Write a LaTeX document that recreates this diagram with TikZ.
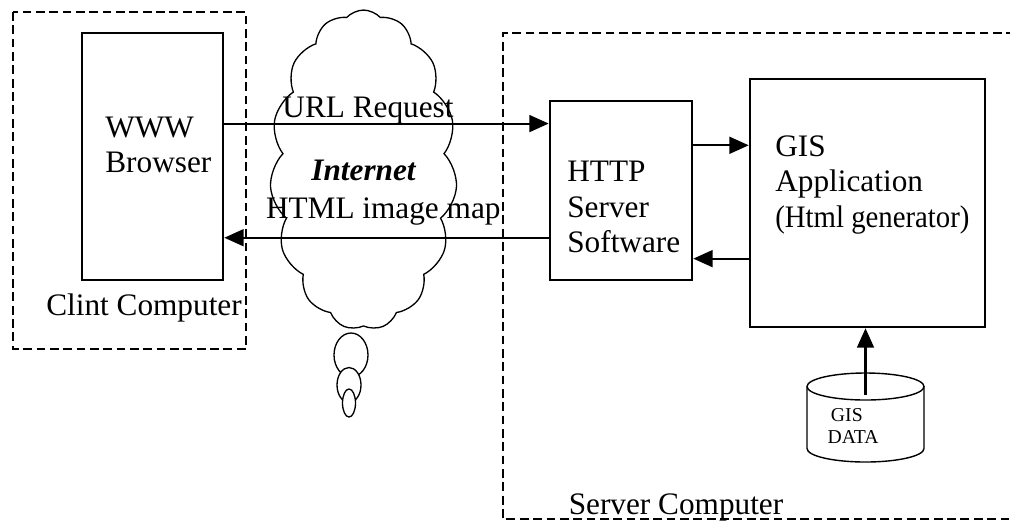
\documentclass[tikz,border=0pt]{standalone}
\usepackage{fontspec}
\setmainfont{Liberation Serif}
\usetikzlibrary{arrows.meta, calc, shapes.geometric, shapes.symbols}

\tikzset{
	box/.style={draw, line width=1.5pt, inner sep=0pt},
	frame/.style={line width=1.2pt, dash pattern=on 5pt off 2.6pt},
	arrow/.style={line width=1.2pt, -{Triangle[length=11pt,width=9.6pt]}},
	lbl/.style={inner sep=0pt, align=left},
	bubble/.style={ellipse, draw, fill=white, line width=.75pt, inner sep=0pt},
}

\begin{document}
\begin{tikzpicture}[x=.02cm, y=-.02cm, every node/.style={font=\fontsize{17.8}{20}\selectfont}]
	\useasboundingbox (0,0) rectangle (1010,529);

	\begin{scope}
	\draw[frame] (13,12) rectangle (246,349);
	\node (browser) [box, minimum width=2.82cm, minimum height=4.94cm] at (152.5,156.5) {};
	\node (browserlbl) [lbl, anchor=west] at (105,145) {WWW\\Browser};
	\node (client) at (144,308) {Clint Computer};
	\end{scope}

	\begin{scope}
	\node (net) [cloud, draw, cloud ignores aspect, cloud puffs=15, cloud puff arc=95, line width=.75pt,
		minimum width=3.74cm, minimum height=6.4cm, font=\fontsize{17.8}{20}\selectfont\bfseries\itshape] at (363.5,170) {Internet};
	\node (bubblea) [bubble, minimum width=.68cm, minimum height=.88cm] at (351,355) {};
	\node (bubbleb) [bubble, minimum width=.48cm, minimum height=.7cm] at (349,385) {};
	\node (bubblec) [bubble, minimum width=.26cm, minimum height=.56cm] at (349,403) {};
	\end{scope}

	\begin{scope}
	\draw[frame] (1015,33) -- (503,33) -- (503,519) -- (1015,519);
	\node (http) [box, minimum width=2.84cm, minimum height=3.58cm] at (621,190.5) {};
	\node (httplbl) [lbl, anchor=west] at (567,207) {HTTP\\Server\\Software};
	\node (gis) [box, minimum width=4.7cm, minimum height=4.96cm] at (867.5,203) {};
	\node (gislbl) [lbl, anchor=west] at (775,185) {GIS\\Application\\\scalebox{.92}[1]{(Html generator)}};
	\node (server) at (676,507) {Server Computer};
	\end{scope}

	% data store
	\begin{scope}[line width=.8pt]
	\draw (865.5,386.5) ellipse [x radius=58.5, y radius=13.5];
	\draw (807,386.5) -- (807,448.5) arc [start angle=180, end angle=0, x radius=58.5, y radius=13.5] -- (924,386.5);
	\coordinate (dbtop) at (865.5,395);
	\node (gisdblbl) [lbl, anchor=west, font=\fontsize{11.2}{12.5}\selectfont] at (827,426) {\,GIS\\DATA};
	\end{scope}

	\coordinate (urlout) at ($(browser.north east)!.368!(browser.south east)$);
	\coordinate (mapout) at ($(http.north west)!.76!(http.south west)$);
	\coordinate (reqout) at ($(http.north east)!.251!(http.south east)$);
	\coordinate (resout) at ($(gis.north west)!.722!(gis.south west)$);

	\begin{scope}
	\draw[arrow] (urlout) -- (urlout -| http.west) node[pos=.443, anchor=base, yshift=3.4pt] (urllbl) {URL Request};
	\draw[arrow] (mapout) -- (mapout -| browser.east) node[pos=.51, anchor=base, yshift=10.8pt] (maplbl) {HTML image map};
	\draw[arrow] (reqout) -- (reqout -| gis.west);
	\draw[arrow] (resout) -- (resout -| http.east);
	\draw[arrow] (dbtop) -- (dbtop |- gis.south);
	\end{scope}
\end{tikzpicture}
\end{document}
